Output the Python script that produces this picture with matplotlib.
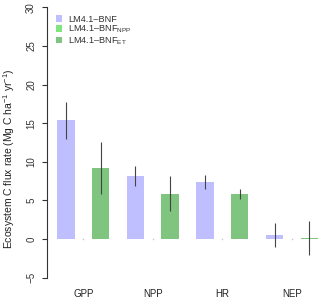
import numpy as np
import matplotlib as mpl
mpl.use('Agg')
import matplotlib.pyplot as plt
from matplotlib.patches import Patch

# data
fluxes = ['GPP', 'NPP', 'HR', 'NEP']
bnf = [15.4, 8.15, 7.4, 0.55]
bnf_err = [2.4, 1.25, 0.87, 1.6]
bnf_npp = [0, 0, 0, 0]
bnf_et = [9.15, 5.9, 5.86, 0.15]
bnf_et_err = [3.35, 2.3, 0.67, 2.25]

labels = ['LM4.1\u2013BNF', 'LM4.1\u2013BNF$_{\\mathrm{NPP}}$', 'LM4.1\u2013BNF$_{\\mathrm{ET}}$']
colors = ['#BFBFFF', '#80E57F', '#7FC47F']

plt.rcParams['font.family'] = ['Liberation Sans', 'DejaVu Sans']
plt.rcParams['mathtext.fontset'] = 'custom'
plt.rcParams['mathtext.rm'] = 'Liberation Sans'

fig = plt.figure(figsize=(3.2, 3.0), dpi=100)
ax = fig.add_axes([46.7 / 320, 0.038, 1 - 46.7 / 320, 0.974])

x0 = np.arange(len(fluxes)) * 4 + 0.5
ax.bar(x0, bnf, width=1, color=colors[0], edgecolor='none')
ax.bar(x0 + 2, bnf_et, width=1, color=colors[2], edgecolor='none')
ax.plot(x0 + 1, bnf_npp, ls='none', marker='s', ms=1, color='#c8c8c8', mec='none')
ax.errorbar(x0, bnf, yerr=bnf_err, fmt='none', ecolor='#444444', elinewidth=0.8, capsize=0)
ax.errorbar(x0 + 2, bnf_et, yerr=bnf_et_err, fmt='none', ecolor='#444444', elinewidth=0.8, capsize=0)

ax.set_xlim(-0.6, (320 - 57) / 17.4)
ax.set_ylim(-6.4, 31.4)

for side in ['top', 'right', 'bottom']:
    ax.spines[side].set_visible(False)
ax.spines['left'].set_bounds(-5, 30)
ax.spines['left'].set_color('#333333')
ax.spines['left'].set_linewidth(0.8)
ax.set_yticks(np.arange(-5, 31, 5))
ax.tick_params(axis='y', length=3.6, width=0.8, color='#333333', labelsize=7, labelcolor='#333333', pad=4)
for t in ax.get_yticklabels():
    t.set_rotation(90)
    t.set_va('center')
ax.set_xticks([])

for i, name in enumerate(fluxes):
    ax.text(x0[i] + 1, -7.1, name, ha='center', va='center', fontsize=7, color='#222222', clip_on=False)

fig.text(9 / 320, 1 - 159 / 300, 'Ecosystem C flux rate (Mg C ha$^{-1}$ yr$^{-1}$)',
         rotation=90, ha='center', va='center', fontsize=7.5, color='#222222')

handles = [Patch(facecolor=c, edgecolor='none') for c in colors]
fig.legend(handles, labels, loc='upper left', bbox_to_anchor=(51 / 320, 1 - 10 / 300), frameon=False,
           fontsize=6.6, handlelength=0.7, handleheight=0.7, handletextpad=0.7, labelspacing=0.0,
           borderpad=0, labelcolor='#333333')

fig.savefig('out.png', dpi=100)
